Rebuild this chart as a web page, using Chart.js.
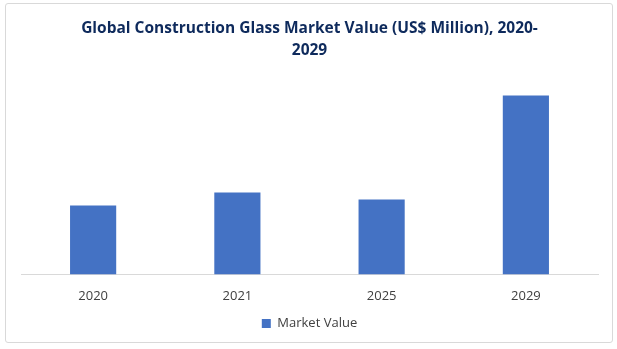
<!DOCTYPE html>
<html>
<head>
<meta charset="utf-8">
<script src="https://cdn.jsdelivr.net/npm/chart.js@4"></script>
<style>
    html, body { margin: 0; padding: 0; background: #fff; }
    #frame {
        position: absolute; left: 5px; top: 3px;
        width: 606px; height: 338px;
        border: 1px solid #d9d9d9; border-radius: 3px;
        background: #fff;
    }
</style>
</head>
<body>
<div id="frame"><canvas id="chart" width="606" height="338"></canvas></div>
<script>
const YEARS = ['2020', '2021', '2025', '2029'];
const MARKET_VALUE = [69, 82, 75, 179];
const TITLE_LINES = ['Global Construction Glass Market Value (US$ Million), 2020-', '2029'];

// eslint-disable-next-line no-undef
new Chart(document.getElementById('chart'), {
    type: 'bar',
    data: {
        labels: YEARS,
        datasets: [{
            label: 'Market Value',
            data: MARKET_VALUE,
            backgroundColor: '#4472C4',
            barPercentage: 0.32,
            categoryPercentage: 1
        }]
    },
    options: {
        responsive: false,
        animation: false,
        layout: { padding: { left: 15, right: 14, top: 10, bottom: 2 } },
        scales: {
            x: {
                grid: { display: false },
                border: { color: '#d9d9d9' },
                ticks: { color: '#404040', font: { family: 'Open Sans', size: 13 }, padding: 6 }
            },
            y: {
                display: false,
                min: 0,
                max: 193
            }
        },
        plugins: {
            title: {
                display: true,
                text: TITLE_LINES,
                color: '#0E2A5C',
                font: { family: 'Open Sans', size: 15.5, weight: 'bold', lineHeight: 1.4 },
                padding: { top: 4, bottom: 20 }
            },
            legend: {
                position: 'bottom',
                labels: {
                    boxWidth: 9, boxHeight: 9,
                    color: '#404040',
                    font: { family: 'Open Sans', size: 13 },
                    padding: 7
                }
            },
            tooltip: { enabled: false }
        }
    }
});
</script>
</body>
</html>
